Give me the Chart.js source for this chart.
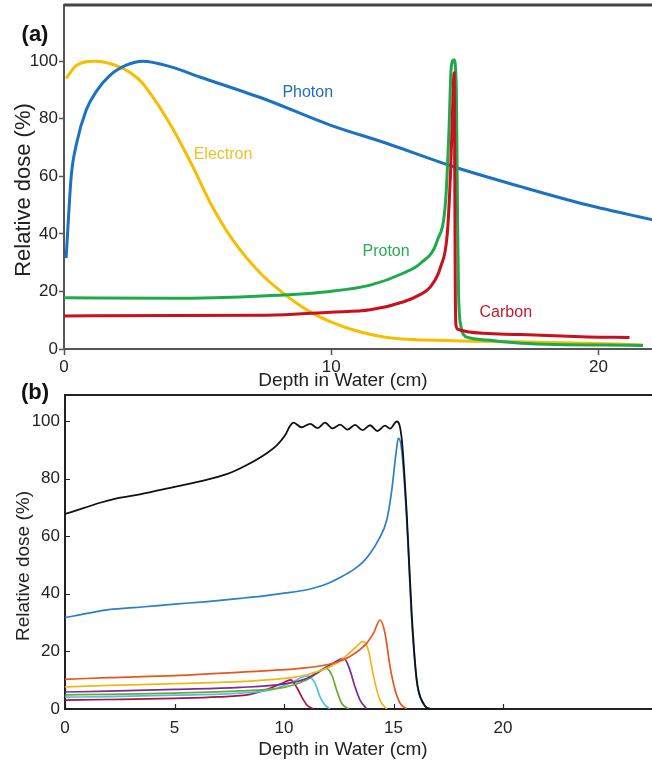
<!DOCTYPE html>
<html>
<head>
<meta charset="utf-8">
<script src="https://cdn.jsdelivr.net/npm/chart.js@4.4.1/dist/chart.umd.min.js"></script>
<style>
  html, body { margin: 0; padding: 0; background: #fff; }
  #wrap { position: relative; width: 652px; height: 766px; overflow: hidden; }
  #chartA { position: absolute; left: 0; top: 0; }
  #chartB { position: absolute; left: 0; top: 383px; }
</style>
</head>
<body>
<div id="wrap">
  <canvas id="chartA" width="652" height="395"></canvas>
  <canvas id="chartB" width="652" height="383"></canvas>
</div>
<script>
// ---- (a) depth dose of the four beam types ----
const photonDepth = [0.08, 0.27, 0.46, 0.83, 1.21, 1.71, 2.33, 2.95, 4.0, 5.08, 7.59, 9.96, 12.09, 14.58, 17.09, 19.6, 22.05];
const photonDose  = [31.6, 60, 71, 83, 89.5, 95, 98.6, 100, 98, 94.5, 86.5, 77.8, 71.4, 63.3, 56.4, 50, 44.8];

const electronDepth = [0.08, 0.46, 1.14, 2.08, 2.83, 3.32, 4.07, 4.82, 5.46, 6.32, 7.34, 8.2, 9.1, 9.96, 10.83, 12.09, 14.58, 17.09, 19.6, 21.66];
const electronDose  = [94, 98.5, 100, 98, 93.4, 87.6, 76.5, 63.3, 51, 37.8, 26.4, 19.4, 13.5, 9.5, 6.6, 4, 2.9, 2.5, 2.0, 1.4];

const protonDepth = [0, 3.9, 7.59, 9.96, 11.46, 12.71, 13.34, 13.97, 14.28, 14.4, 14.49, 14.59, 14.68, 14.72, 14.76, 14.85, 14.95, 15.2, 15.84, 17.09, 21.66];
const protonDose  = [17.8, 17.6, 18.5, 20, 22.2, 26.4, 29.8, 37.8, 51.7, 75, 98, 100.5, 90, 50, 20, 8, 5, 3.8, 3.1, 2.0, 1.2];

const carbonDepth = [0, 7.59, 9.96, 11.46, 12.71, 13.3, 13.71, 14.09, 14.34, 14.47, 14.57, 14.6, 14.62, 14.64, 14.67, 14.75, 15.09, 17.09, 19.6, 21.16];
const carbonDose  = [11.5, 11.7, 12.8, 13.6, 16.4, 18.8, 21.6, 28.5, 40, 63, 92, 96, 60, 20, 8, 6.8, 6.0, 5.0, 4.2, 4.0];

const seriesNamesA = ['Photon', 'Electron', 'Proton', 'Carbon'];

// ---- (b) spread-out Bragg peak and its pristine peaks ----
const sobpDepth = [0, 0.84, 1.6, 2.36, 3.42, 4.95, 6.16, 7.38, 8.3, 9.21, 9.7, 10.05, 10.27, 10.43, 10.8, 11.19, 11.54, 11.87, 12.22, 12.56, 12.9, 13.24, 13.59, 13.93, 14.26, 14.61, 14.84, 15.15, 15.37, 15.6, 15.83, 16.06, 16.36, 16.67, 19.6];
const sobpDose  = [67.7, 69.7, 71.6, 73.1, 74.5, 77.0, 79.0, 81.5, 84.7, 88.8, 91.8, 95.0, 98.2, 99.4, 97.8, 99.0, 97.5, 99.4, 97.4, 98.7, 97.0, 98.6, 96.8, 98.5, 96.5, 98.4, 97.3, 99.8, 94, 68, 33, 10, 2, 0, 0];

const peak1Depth = [0, 1, 2, 3.5, 5, 6.5, 8, 9, 10, 11, 11.64, 12.1, 12.6, 13.16, 13.6, 13.93, 14.3, 14.69, 14.92, 15.1, 15.22, 15.37, 15.6, 15.83, 16.06, 16.36, 16.67];
const peak1Dose  = [31.7, 33.2, 34.5, 35.4, 36.4, 37.3, 38.4, 39.2, 40.2, 41.3, 42.6, 43.9, 45.8, 48.3, 51.0, 54.0, 58.5, 65.6, 76, 88, 94, 90, 66, 31, 9.5, 1.8, 0];

const peak2Depth = [0, 2, 5, 8.45, 10.73, 12.25, 13, 13.77, 14.1, 14.38, 14.61, 14.84, 15.07, 15.3, 15.6];
const peak2Dose  = [10.3, 10.9, 11.6, 13.0, 14.1, 15.9, 18.2, 22.8, 26.5, 30.9, 26.3, 14.7, 6.6, 2.0, 0];

const peak3Depth = [0, 2, 5, 8.45, 10, 11, 12.4, 13.3, 13.59, 13.85, 14.0, 14.16, 14.38, 14.69];
const peak3Dose  = [7.7, 8.2, 8.8, 9.7, 10.6, 11.8, 15.9, 21.6, 23.4, 20.5, 14.7, 8.9, 3.1, 0];

const peak4Depth = [0, 2, 5, 8, 10, 11, 12.1, 12.74, 13.01, 13.24, 13.47, 13.78];
const peak4Dose  = [5.9, 6.2, 6.8, 7.5, 8.7, 10.5, 15.3, 17.6, 13.5, 7.7, 3.1, 0];

const peak5Depth = [0, 2, 5, 8, 10, 11, 11.5, 11.92, 12.18, 12.4, 12.63, 12.95];
const peak5Dose  = [4.9, 5.1, 5.5, 6.3, 7.5, 10.0, 12.3, 14.1, 11.8, 6.6, 2.0, 0];

const peak6Depth = [0, 2, 5, 8, 9.5, 10.42, 11.07, 11.42, 11.64, 11.87, 12.1];
const peak6Dose  = [4.1, 4.3, 4.8, 5.5, 6.8, 9.5, 11.5, 8.9, 4.3, 1.4, 0];

const peak7Depth = [0, 2, 5, 7, 8.45, 9.36, 9.97, 10.3, 10.58, 10.8, 11.04, 11.34];
const peak7Dose  = [3.1, 3.3, 3.7, 4.2, 5.1, 7.2, 9.1, 10.1, 7.5, 4.3, 1.4, 0];

const axisTitleX = 'Depth in Water (cm)';
const axisTitleY = 'Relative dose (%)';

Chart.defaults.font.family = '"Liberation Sans", Arial, sans-serif';
Chart.defaults.color = '#222';

const pts = (xs, ys) => xs.map((x, i) => ({ x: x, y: ys[i] }));

// draws top frame, inward ticks and the free text of the figure
const decor = {
    id: 'decor',
    afterDraw(chart, args, opts) {
        const { ctx, chartArea: a, scales } = chart;
        ctx.save();
        ctx.strokeStyle = opts.frameColor;
        ctx.lineWidth = opts.frameWidth;
        ctx.beginPath();
        ctx.moveTo(a.left, a.top);
        ctx.lineTo(a.right, a.top);
        ctx.stroke();

        if (opts.innerTicks) {
            ctx.lineWidth = 1.2;
            ctx.beginPath();
            scales.x.ticks.forEach(t => {
                const px = Math.round(scales.x.getPixelForValue(t.value)) + 0.5;
                ctx.moveTo(px, a.bottom);
                ctx.lineTo(px, a.bottom - 5);
            });
            scales.y.ticks.forEach(t => {
                const py = Math.round(scales.y.getPixelForValue(t.value)) + 0.5;
                ctx.moveTo(a.left, py);
                ctx.lineTo(a.left + 5, py);
            });
            ctx.stroke();
        }

        ctx.textAlign = 'center';
        ctx.textBaseline = 'middle';
        (opts.texts || []).forEach(t => {
            const px = t.x !== undefined ? scales.x.getPixelForValue(t.x) : t.px;
            const py = t.y !== undefined ? scales.y.getPixelForValue(t.y) : t.py;
            ctx.fillStyle = t.color || '#222';
            ctx.font = (t.bold ? 'bold ' : '') + t.size + 'px "Liberation Sans", Arial, sans-serif';
            ctx.save();
            ctx.translate(px, py);
            if (t.rotate) ctx.rotate(t.rotate);
            ctx.fillText(t.text, 0, 0);
            ctx.restore();
        });
        ctx.restore();
    }
};

const line = (label, xs, ys, color, width) => ({
    label: label,
    data: pts(xs, ys),
    borderColor: color,
    borderWidth: width,
    pointRadius: 0,
    fill: false,
    cubicInterpolationMode: 'monotone'
});

// ---------- chart (a) ----------
new Chart(document.getElementById('chartA'), {
    type: 'line',
    data: {
        datasets: [
            line(seriesNamesA[3], carbonDepth, carbonDose, '#c8101e', 3),
            line(seriesNamesA[2], protonDepth, protonDose, '#1eaa4b', 3),
            line(seriesNamesA[0], photonDepth, photonDose, '#1b72c2', 3),
            line(seriesNamesA[1], electronDepth, electronDose, '#f7bd00', 3)
        ]
    },
    options: {
        responsive: false,
        animation: false,
        devicePixelRatio: 1,
        layout: { padding: { top: 5, left: 0, right: 0, bottom: 0 } },
        plugins: {
            legend: { display: false },
            tooltip: { enabled: false },
            decor: {
                frameColor: '#444',
                frameWidth: 3,
                innerTicks: false,
                texts: [
                    { text: '(a)', px: 35, py: 35, size: 22, bold: true, color: '#111' },
                    { text: axisTitleY, px: 24, py: 190, size: 22, rotate: -Math.PI / 2 },
                    { text: axisTitleX, px: 343, py: 381, size: 19 },
                    { text: seriesNamesA[0], x: 9.12, y: 89.2, size: 16, color: '#1f6fb8' },
                    { text: seriesNamesA[1], x: 5.95, y: 67.4, size: 16, color: '#efc12a' },
                    { text: seriesNamesA[2], x: 12.05, y: 33.7, size: 16, color: '#26ad52' },
                    { text: seriesNamesA[3], x: 16.53, y: 12.8, size: 16, color: '#c41a2a' }
                ]
            }
        },
        scales: {
            x: {
                type: 'linear',
                min: 0,
                max: 22,
                afterFit: s => { s.height = 46; s.paddingLeft = 0; s.paddingRight = 0; },
                ticks: { stepSize: 10, includeBounds: false, padding: 2, font: { size: 17 } },
                grid: { drawOnChartArea: false, tickLength: 6, color: '#555', tickWidth: 1.5 },
                border: { color: '#555', width: 2 }
            },
            y: {
                min: 0,
                max: 119.5,
                afterFit: s => { s.width = 64; s.paddingTop = 0; s.paddingBottom = 0; },
                ticks: { stepSize: 20, includeBounds: false, padding: 1, font: { size: 17 } },
                grid: { drawOnChartArea: false, tickLength: 5, color: '#555', tickWidth: 1.5 },
                border: { color: '#555', width: 2 }
            }
        }
    },
    plugins: [decor]
});

// ---------- chart (b) ----------
new Chart(document.getElementById('chartB'), {
    type: 'line',
    data: {
        datasets: [
            line('SOBP', sobpDepth, sobpDose, '#111111', 1.8),
            line('Peak 1', peak1Depth, peak1Dose, '#2a7fcc', 1.7),
            line('Peak 2', peak2Depth, peak2Dose, '#e8561e', 1.7),
            line('Peak 3', peak3Depth, peak3Dose, '#f2b51a', 1.7),
            line('Peak 4', peak4Depth, peak4Dose, '#7a2a9a', 1.7),
            line('Peak 5', peak5Depth, peak5Dose, '#6aaa30', 1.7),
            line('Peak 6', peak6Depth, peak6Dose, '#4ec0e8', 1.7),
            line('Peak 7', peak7Depth, peak7Dose, '#a8143c', 1.7)
        ]
    },
    options: {
        responsive: false,
        animation: false,
        devicePixelRatio: 1,
        layout: { padding: { top: 12, left: 0, right: 0, bottom: 0 } },
        plugins: {
            legend: { display: false },
            tooltip: { enabled: false },
            decor: {
                frameColor: '#222',
                frameWidth: 2,
                innerTicks: true,
                texts: [
                    { text: '(b)', px: 35, py: 10, size: 22, bold: true, color: '#111' },
                    { text: axisTitleY, px: 24, py: 183, size: 19, rotate: -Math.PI / 2 },
                    { text: axisTitleX, px: 343, py: 367, size: 19 }
                ]
            }
        },
        scales: {
            x: {
                type: 'linear',
                min: 0,
                max: 26.8,
                afterBuildTicks: s => { s.ticks = s.ticks.filter(t => t.value <= 20); },
                afterFit: s => { s.height = 57; s.paddingLeft = 0; s.paddingRight = 0; },
                ticks: { stepSize: 5, includeBounds: false, padding: 9, font: { size: 17 } },
                grid: { drawOnChartArea: false, drawTicks: false },
                border: { color: '#222', width: 2 }
            },
            y: {
                min: 0,
                max: 109,
                afterFit: s => { s.width = 65; s.paddingTop = 0; s.paddingBottom = 0; },
                ticks: { stepSize: 20, includeBounds: false, padding: 5, font: { size: 17 } },
                grid: { drawOnChartArea: false, drawTicks: false },
                border: { color: '#222', width: 2 }
            }
        }
    },
    plugins: [decor]
});
</script>
</body>
</html>
